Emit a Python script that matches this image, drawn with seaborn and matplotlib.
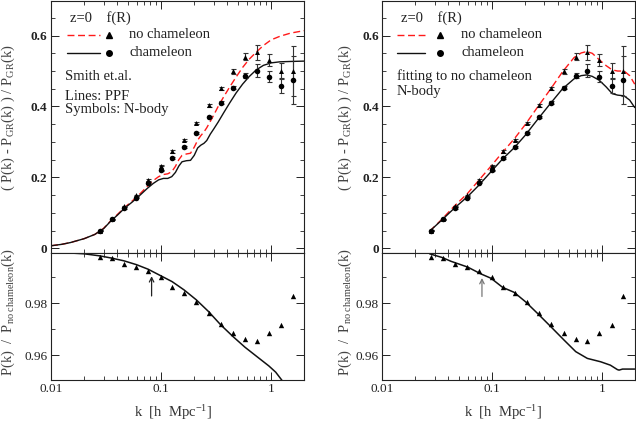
import numpy as np
import pandas as pd
import matplotlib
matplotlib.use("Agg")
import matplotlib.pyplot as plt
import seaborn as sns
from matplotlib.ticker import MultipleLocator, LogLocator, FixedLocator, FuncFormatter, NullFormatter
from matplotlib.lines import Line2D

# ---------------- data ----------------
# N-body measurements (same in both panels)
k_nbody = [0.0278, 0.0357, 0.0459, 0.059, 0.0757, 0.1, 0.126, 0.162, 0.209, 0.27,
           0.348, 0.45, 0.578, 0.742, 0.953, 1.23, 1.57]
tri_top = [0.050, 0.082, 0.118, 0.149, 0.192, 0.233, 0.273, 0.306, 0.354, 0.403,
           0.451, 0.500, 0.541, 0.553, 0.531, 0.500, 0.500]
tri_err = [0.001, 0.001, 0.002, 0.002, 0.002, 0.002, 0.003, 0.003, 0.003, 0.004,
           0.004, 0.007, 0.009, 0.021, 0.017, 0.022, 0.070]
circ_top = [0.050, 0.082, 0.113, 0.143, 0.185, 0.220, 0.255, 0.285, 0.326, 0.370,
            0.411, 0.453, 0.487, 0.501, 0.484, 0.458, 0.475]
circ_err = [0.001, 0.001, 0.002, 0.002, 0.002, 0.002, 0.003, 0.003, 0.003, 0.003,
            0.004, 0.005, 0.007, 0.018, 0.016, 0.021, 0.068]
tri_ratio = [0.9977, 0.9972, 0.9951, 0.9938, 0.9922, 0.9899, 0.9864, 0.9841, 0.9806,
             0.9764, 0.9719, 0.9685, 0.9664, 0.9655, 0.9687, 0.9715, 0.9826]

# PPF (Smith et al.) predictions, left panel
k_ppf = [0.01, 0.0125, 0.015, 0.02, 0.025, 0.03, 0.035, 0.04, 0.047, 0.055, 0.065,
         0.075, 0.085, 0.095, 0.105, 0.115, 0.125, 0.135, 0.145, 0.155, 0.17, 0.185,
         0.2, 0.215, 0.23, 0.245, 0.26, 0.28, 0.3, 0.33, 0.37, 0.42, 0.48, 0.55,
         0.63, 0.73, 0.85, 1.0, 1.2, 1.5, 2.0]
ppf_cham = [0.007, 0.011, 0.016, 0.027, 0.039, 0.055, 0.077, 0.093, 0.114, 0.131,
            0.151, 0.169, 0.183, 0.193, 0.197, 0.197, 0.202, 0.214, 0.232, 0.244,
            0.247, 0.248, 0.262, 0.283, 0.291, 0.296, 0.304, 0.322, 0.336, 0.356,
            0.382, 0.410, 0.438, 0.463, 0.484, 0.503, 0.516, 0.523, 0.526, 0.527, 0.528]
ppf_nocham = [0.007, 0.011, 0.016, 0.027, 0.039, 0.056, 0.078, 0.095, 0.116, 0.134,
              0.155, 0.175, 0.191, 0.202, 0.208, 0.210, 0.216, 0.231, 0.250, 0.262,
              0.266, 0.268, 0.285, 0.305, 0.318, 0.328, 0.340, 0.358, 0.375, 0.400,
              0.427, 0.455, 0.483, 0.510, 0.533, 0.553, 0.572, 0.588, 0.598, 0.607, 0.614]

# fitting functions, right panel
k_fit = [0.027, 0.035, 0.045, 0.06, 0.075, 0.1, 0.125, 0.16, 0.2, 0.26, 0.34, 0.44,
         0.56, 0.65, 0.73, 0.82, 0.95, 1.1, 1.25, 1.4, 1.6, 1.8, 2.0]
fit_nocham = [0.048, 0.082, 0.118, 0.155, 0.190, 0.235, 0.271, 0.309, 0.348, 0.398,
              0.448, 0.498, 0.538, 0.551, 0.555, 0.550, 0.532, 0.515, 0.503, 0.500,
              0.500, 0.487, 0.463]
fit_cham = [0.048, 0.080, 0.112, 0.146, 0.176, 0.219, 0.252, 0.284, 0.318, 0.363,
            0.408, 0.450, 0.478, 0.487, 0.489, 0.485, 0.474, 0.455, 0.436, 0.432,
            0.430, 0.418, 0.397]

# ratio curves (lower panels)
k_ratio_l = [0.01, 0.015, 0.02, 0.0278, 0.035, 0.046, 0.06, 0.076, 0.1, 0.126, 0.162,
             0.209, 0.27, 0.348, 0.45, 0.578, 0.742, 0.953, 1.1, 1.3]
ratio_l = [0.9995, 0.9993, 0.9990, 0.9982, 0.9974, 0.9963, 0.9948, 0.9931, 0.9905,
           0.9883, 0.9851, 0.9813, 0.9768, 0.9717, 0.9672, 0.9631, 0.9595, 0.9559,
           0.9535, 0.9495]
k_ratio_r = [0.027, 0.035, 0.0424, 0.06, 0.079, 0.098, 0.125, 0.159, 0.203, 0.26, 0.34,
             0.45, 0.58, 0.74, 0.98, 1.2, 1.39, 1.44, 1.55, 2.0]
ratio_r = [0.9990, 0.9976, 0.9961, 0.9939, 0.9913, 0.9896, 0.9861, 0.9842, 0.9805,
           0.9761, 0.9712, 0.9660, 0.9614, 0.9588, 0.9575, 0.9562, 0.9545, 0.9543,
           0.9547, 0.9547]

arrow_k = [0.082, 0.081]

# ---------------- style ----------------
sns.set_style("ticks")
plt.rcParams['font.family'] = ['Liberation Serif', 'DejaVu Serif']
plt.rcParams['mathtext.fontset'] = 'custom'
plt.rcParams['mathtext.rm'] = 'Liberation Serif'
plt.rcParams['mathtext.it'] = 'Liberation Serif:italic'
plt.rcParams['mathtext.bf'] = 'Liberation Serif:bold'

W, H = 636, 421
fig = plt.figure(figsize=(6.36, 4.21), dpi=100)


def rect(l, t, r, b):
    return [l / W, 1 - b / H, (r - l) / W, (b - t) / H]


top_l = fig.add_axes(rect(51, 0.5, 304.3, 252.5))
bot_l = fig.add_axes(rect(51, 252.5, 304.3, 380))
top_r = fig.add_axes(rect(382.3, 0.5, 634.7, 252.5))
bot_r = fig.add_axes(rect(382.3, 252.5, 634.7, 380))

TXT = '#222222'
RED = '#ff1a1a'
DASH = (0, (5, 2.6))


def style(ax, top):
    ax.set_xscale('log')
    ax.set_xlim(0.01, 2.0)
    ax.tick_params(which='both', direction='in', top=True, right=True,
                   colors=TXT, labelsize=9.5, pad=2.5)
    ax.tick_params(which='major', length=5.5, width=0.7)
    ax.tick_params(which='minor', length=3, width=0.6)
    for s in ax.spines.values():
        s.set_linewidth(0.8)
        s.set_color('#222222')
    ax.xaxis.set_major_locator(FixedLocator([0.01, 0.1, 1]))
    ax.xaxis.set_minor_locator(LogLocator(base=10, subs=np.arange(2, 10) * 1.0, numticks=20))
    ax.xaxis.set_minor_formatter(NullFormatter())
    ax.set_xlabel('')
    ax.set_ylabel('')
    if top:
        ax.set_ylim(-0.012, 0.699)
        ax.set_yticks([0, 0.2, 0.4, 0.6], labels=['0', '0.2', '0.4', '0.6'],
                      fontweight='bold')
        ax.yaxis.set_minor_locator(MultipleLocator(0.05))
        ax.tick_params(labelbottom=False)
    else:
        ax.set_ylim(0.9505, 0.9995)
        ax.set_yticks([0.96, 0.98], labels=['0.96', '0.98'])
        ax.yaxis.set_minor_locator(MultipleLocator(0.01))
        ax.xaxis.set_major_formatter(FuncFormatter(lambda v, p: f'{v:g}'))


def nbody_top(ax):
    ax.errorbar(k_nbody, tri_top, yerr=tri_err, fmt='none', ecolor='#333333',
                elinewidth=0.8, capsize=1.8, capthick=0.8, zorder=3)
    ax.errorbar(k_nbody, circ_top, yerr=circ_err, fmt='none', ecolor='#333333',
                elinewidth=0.8, capsize=1.8, capthick=0.8, zorder=3)
    sns.scatterplot(x=k_nbody, y=tri_top, ax=ax, marker='^', s=13, color='black',
                    edgecolor='black', linewidth=0, zorder=4)
    sns.scatterplot(x=k_nbody, y=circ_top, ax=ax, marker='o', s=16, color='black',
                    edgecolor='black', linewidth=0, zorder=4)


# left top
df_ppf = pd.DataFrame({'k': k_ppf, 'cham': ppf_cham, 'nocham': ppf_nocham})
sns.lineplot(data=df_ppf, x='k', y='nocham', ax=top_l, color=RED, linestyle=DASH,
             linewidth=1.0, estimator=None, sort=False)
sns.lineplot(data=df_ppf, x='k', y='cham', ax=top_l, color='#111111',
             linewidth=1.0, estimator=None, sort=False)
nbody_top(top_l)

# right top
df_fit = pd.DataFrame({'k': k_fit, 'cham': fit_cham, 'nocham': fit_nocham})
sns.lineplot(data=df_fit, x='k', y='nocham', ax=top_r, color=RED, linestyle=DASH,
             linewidth=1.0, estimator=None, sort=False)
sns.lineplot(data=df_fit, x='k', y='cham', ax=top_r, color='#111111',
             linewidth=1.0, estimator=None, sort=False)
nbody_top(top_r)

# lower panels
sns.lineplot(x=k_ratio_l, y=ratio_l, ax=bot_l, color='#111111', linewidth=1.1,
             estimator=None, sort=False)
sns.lineplot(x=k_ratio_r, y=ratio_r, ax=bot_r, color='#111111', linewidth=1.1,
             estimator=None, sort=False)
for ax in (bot_l, bot_r):
    sns.scatterplot(x=k_nbody, y=tri_ratio, ax=ax, marker='^', s=15, color='black',
                    edgecolor='black', linewidth=0, zorder=4)

bot_l.annotate('', xy=(arrow_k[0], 0.9904), xytext=(arrow_k[0], 0.9828),
               arrowprops=dict(arrowstyle='->', color='#222222', lw=0.9,
                               shrinkA=0, shrinkB=0, mutation_scale=8))
bot_r.annotate('', xy=(arrow_k[1], 0.9897), xytext=(arrow_k[1], 0.9826),
               arrowprops=dict(arrowstyle='->', color='#777777', lw=0.9,
                               shrinkA=0, shrinkB=0, mutation_scale=8))

for ax in (top_l, top_r):
    style(ax, True)
for ax in (bot_l, bot_r):
    style(ax, False)

# ---------------- text ----------------
FS = 10.5


def ftext(xp, yp, s, **kw):
    kw.setdefault('fontsize', FS)
    kw.setdefault('color', TXT)
    fig.text(xp / W, 1 - yp / H, s, **kw)


def legend(xz, xl0, xl1, xm, xt):
    ftext(xz, 18, 'z=0    f(R)', ha='left', va='center')
    y1, y2 = 1 - 35 / H, 1 - 53 / H
    fig.add_artist(Line2D([xl0 / W, xl1 / W], [y1, y1], transform=fig.transFigure,
                          color=RED, ls=DASH, lw=1.0))
    fig.add_artist(Line2D([xl0 / W, xl1 / W], [y2, y2], transform=fig.transFigure,
                          color='#111111', lw=1.0))
    fig.add_artist(Line2D([xm / W], [y1], transform=fig.transFigure, marker='^',
                          ms=3.8, color='black', ls='none'))
    fig.add_artist(Line2D([xm / W], [y2], transform=fig.transFigure, marker='o',
                          ms=4.0, color='black', ls='none'))
    ftext(xt, 35, 'no chameleon', ha='left', va='center')
    ftext(xt, 53, 'chameleon', ha='left', va='center')


legend(70, 67, 100, 108.7, 129.3)
legend(401.3, 397, 425.3, 439.7, 461.3)

ftext(65, 76, 'Smith et.al.', ha='left', va='center')
ftext(65, 96, 'Lines: PPF', ha='left', va='center')
ftext(65, 109.5, 'Symbols: N-body', ha='left', va='center')
ftext(397, 76, 'fitting to no chameleon', ha='left', va='center')
ftext(397, 91, 'N-body', ha='left', va='center')

ylab_top = r'( P(k) - P$_{\mathrm{GR}}$(k) ) / P$_{\mathrm{GR}}$(k)'
ylab_bot = r'P(k)  /  P$_{\mathrm{no\ chameleon}}$(k)'
xlab = r'k  [h  Mpc$^{-1}$]'
for xp in (8, 345):
    ftext(xp, 118, ylab_top, rotation=90, ha='center', va='center', color='#444444')
    ftext(xp, 312, ylab_bot, rotation=90, ha='center', va='center', color='#444444')
ftext(173, 413, xlab, ha='center', va='center', color='#333333')
ftext(503, 413, xlab, ha='center', va='center', color='#333333')

fig.savefig('out.png', dpi=100)
